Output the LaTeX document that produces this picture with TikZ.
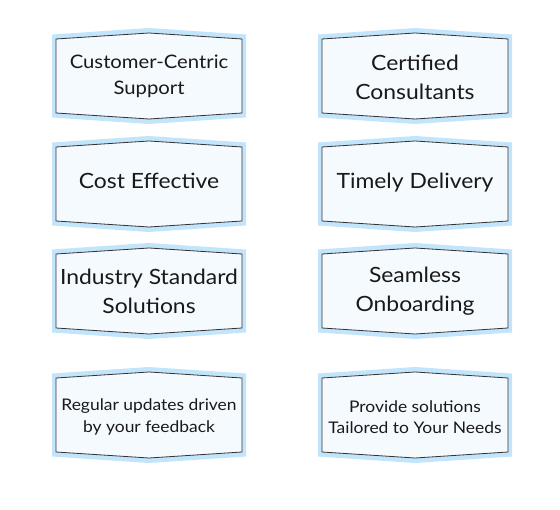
\documentclass[tikz,border=0pt]{standalone}
\usepackage{fontspec}
\setmainfont[FakeStretch=1.09]{Lato}
\usetikzlibrary{calc}
\definecolor{bandblue}{RGB}{194,229,251}
\definecolor{paleblue}{RGB}{245,250,255}

\begin{document}
\begin{tikzpicture}
		[x=1pt, y=-1pt,
		band/.style={fill=bandblue,draw=none},
        plate/.style={fill=paleblue,draw=black!80,line width=0.8pt,line join=miter},
        bigtext/.style={align=center,text=black!90,font=\fontsize{21}{29}\selectfont},
        midtext/.style={align=center,text=black!90,font=\fontsize{18.6}{25.7}\selectfont},
        smalltext/.style={align=center,text=black!90,font=\fontsize{16}{21.5}\selectfont}
        ]

        \useasboundingbox (0,0) rectangle (560,510);

        % sizes of the plates
        \def \hw {93}
        \def \hc {37}
        \def \ha {43}
        \def \bw {97}
        \def \bc {41.5}
        \def \ba {48}

        %draw the plates
        \foreach \cx/\cy in {149/76, 415/76, 149/184, 415/184, 149/291, 415/291, 149/415, 415/415}
        {
        \draw[band] (\cx-\bw,\cy-\bc) -- (\cx,\cy-\ba) -- (\cx+\bw,\cy-\bc) -- (\cx+\bw,\cy+\bc) -- (\cx,\cy+\ba) -- (\cx-\bw,\cy+\bc) -- cycle;
        \draw[plate] (\cx-\hw,\cy-\hc) -- (\cx,\cy-\ha) -- (\cx+\hw,\cy-\hc) -- (\cx+\hw,\cy+\hc) -- (\cx,\cy+\ha) -- (\cx-\hw,\cy+\hc) -- cycle;
        }

        % Left column
        \node[midtext] (support) at (149,76) {Customer-Centric\\Support};
        \node[bigtext] (cost) at (149,181) {Cost Effective};
        \node[bigtext] (industry) at (149,291) {Industry Standard\\Solutions};
        \node[smalltext] (updates) at (149,417) {Regular updates driven\\by your feedback};

        % Right column
        \node[bigtext] (consultants) at (415,77) {Certified\\Consultants};
        \node[bigtext] (delivery) at (415,183) {Timely Delivery};
        \node[bigtext] (onboarding) at (415,291) {Seamless\\Onboarding};
        \node[smalltext] (tailored) at (415,417) {Provide solutions\\Tailored to Your Needs};
\end{tikzpicture}
\end{document}
